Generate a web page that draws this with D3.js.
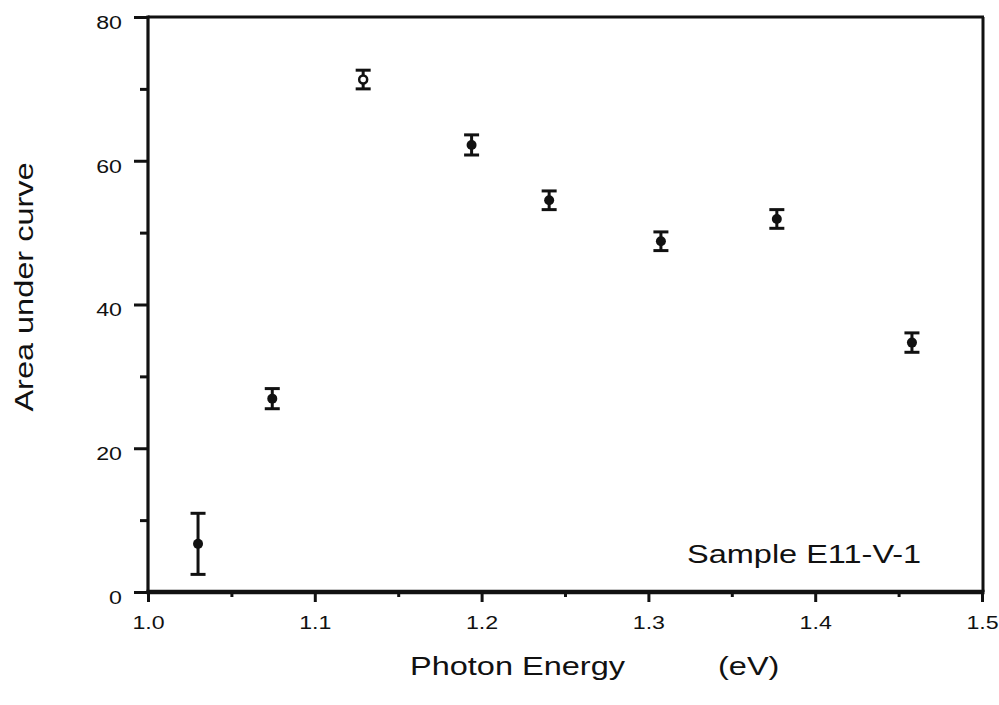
<!DOCTYPE html>
<html>
<head>
<meta charset="utf-8">
<script src="https://cdn.jsdelivr.net/npm/d3@7"></script>
<style>
  html, body { margin: 0; padding: 0; background: #fff; }
  svg { display: block; }
  text { font-family: "Liberation Sans", Arial, Helvetica, sans-serif; fill: #111; }
</style>
</head>
<body>
<svg id="chart" width="999" height="705"></svg>
<script>
// Photon energy (eV) of each measurement
const energy = [1.030, 1.0745, 1.129, 1.194, 1.2405, 1.3075, 1.377, 1.458];
// Area under curve at each energy
const area = [6.7, 26.9, 71.3, 62.2, 54.5, 48.8, 51.9, 34.7];
// Half-height of each error bar
const errorHalf = [4.25, 1.4, 1.3, 1.4, 1.3, 1.3, 1.3, 1.35];
// Marker style: open circle for the third point, filled otherwise
const hollow = [false, false, true, false, false, false, false, false];

const xMajor = [1.0, 1.1, 1.2, 1.3, 1.4, 1.5];
const xMinor = [1.05, 1.15, 1.25, 1.35, 1.45];
const yMajor = [0, 20, 40, 60, 80];
const yMinor = [10, 30, 50, 70];

const svg = d3.select("#chart");
const x = d3.scaleLinear().domain([1.0, 1.5]).range([148, 982]);
const y = d3.scaleLinear().domain([0, 80]).range([592, 17]);

const ink = "#111";
const wide = 1.25;      // horizontal stretch of the lettering
const tickWide = 1.22;

// Frame: top, right, left, and a heavier bottom axis line
svg.append("line").attr("x1", x(1.0)).attr("x2", x(1.5) + 2).attr("y1", y(80)).attr("y2", y(80))
  .attr("stroke", ink).attr("stroke-width", 3);
svg.append("line").attr("x1", x(1.5) + 1).attr("x2", x(1.5) + 1).attr("y1", y(80)).attr("y2", y(0))
  .attr("stroke", ink).attr("stroke-width", 3);
svg.append("line").attr("x1", x(1.0)).attr("x2", x(1.0)).attr("y1", y(80) - 1.5).attr("y2", y(0) + 2)
  .attr("stroke", ink).attr("stroke-width", 3.2);
svg.append("line").attr("x1", x(1.0) - 1.5).attr("x2", x(1.5) + 2.5).attr("y1", y(0)).attr("y2", y(0))
  .attr("stroke", ink).attr("stroke-width", 4.5);

// Stretch axis tick labels horizontally while keeping their anchor point
function widenTickText(sel, s) {
  sel.each(function () {
    const t = d3.select(this);
    const x0 = +t.attr("x") || 0;
    t.attr("x", x0 / s).attr("transform", `scale(${s},1)`);
  });
}

// Bottom axis: major ticks with labels, minor ticks without
const xAxis = svg.append("g").attr("transform", `translate(0,${y(0)})`)
  .call(d3.axisBottom(x).tickValues(xMajor).tickFormat(d3.format(".1f")).tickSize(10).tickPadding(14));
xAxis.select(".domain").remove();
xAxis.selectAll(".tick line").attr("stroke", ink).attr("stroke-width", 3);
xAxis.selectAll(".tick text").attr("font-size", 19).attr("fill", ink)
  .style("font-family", "'Liberation Sans', Arial, sans-serif")
  .call(widenTickText, tickWide);

const xAxisMinor = svg.append("g").attr("transform", `translate(0,${y(0)})`)
  .call(d3.axisBottom(x).tickValues(xMinor).tickFormat("").tickSize(5));
xAxisMinor.select(".domain").remove();
xAxisMinor.selectAll(".tick line").attr("stroke", ink).attr("stroke-width", 3);

// Left axis: major ticks with labels, minor ticks without
const yAxis = svg.append("g").attr("transform", `translate(${x(1.0)},0)`)
  .call(d3.axisLeft(y).tickValues(yMajor).tickFormat(d3.format("d")).tickSize(14).tickPadding(12));
yAxis.select(".domain").remove();
yAxis.selectAll(".tick line").attr("stroke", ink).attr("stroke-width", 3);
yAxis.selectAll(".tick text").attr("font-size", 19).attr("fill", ink).attr("dy", "0.6em")
  .style("font-family", "'Liberation Sans', Arial, sans-serif")
  .call(widenTickText, tickWide);

const yAxisMinor = svg.append("g").attr("transform", `translate(${x(1.0)},0)`)
  .call(d3.axisLeft(y).tickValues(yMinor).tickFormat("").tickSize(8));
yAxisMinor.select(".domain").remove();
yAxisMinor.selectAll(".tick line").attr("stroke", ink).attr("stroke-width", 3);

// Data with error bars
const pts = energy.map((e, i) => ({ e, a: area[i], err: errorHalf[i], open: hollow[i] }));
const capHalf = 7.5;
const g = svg.append("g");
const pg = g.selectAll("g.pt").data(pts).join("g").attr("class", "pt");
pg.append("line")
  .attr("x1", d => x(d.e)).attr("x2", d => x(d.e))
  .attr("y1", d => y(d.a + d.err)).attr("y2", d => y(d.a - d.err))
  .attr("stroke", ink).attr("stroke-width", 3);
pg.append("line")
  .attr("x1", d => x(d.e) - capHalf).attr("x2", d => x(d.e) + capHalf)
  .attr("y1", d => y(d.a + d.err)).attr("y2", d => y(d.a + d.err))
  .attr("stroke", ink).attr("stroke-width", 3);
pg.append("line")
  .attr("x1", d => x(d.e) - capHalf).attr("x2", d => x(d.e) + capHalf)
  .attr("y1", d => y(d.a - d.err)).attr("y2", d => y(d.a - d.err))
  .attr("stroke", ink).attr("stroke-width", 3);
pg.append("circle")
  .attr("cx", d => x(d.e)).attr("cy", d => y(d.a))
  .attr("r", d => d.open ? 4 : 5)
  .attr("fill", d => d.open ? "#fff" : ink)
  .attr("stroke", ink).attr("stroke-width", d => d.open ? 2.5 : 0);

// Axis titles and sample annotation
svg.append("text").attr("transform", `translate(410,675) scale(${wide},1)`)
  .attr("font-size", 26).text("Photon Energy");
svg.append("text").attr("transform", `translate(718,675) scale(${wide},1)`)
  .attr("font-size", 26).text("(eV)");
svg.append("text")
  .attr("transform", `translate(33,287) rotate(-90) scale(${wide},1)`)
  .attr("text-anchor", "middle").attr("font-size", 26).text("Area under curve");
svg.append("text").attr("transform", `translate(687,563) scale(${wide},1)`)
  .attr("font-size", 26).text("Sample E11-V-1");
</script>
</body>
</html>
